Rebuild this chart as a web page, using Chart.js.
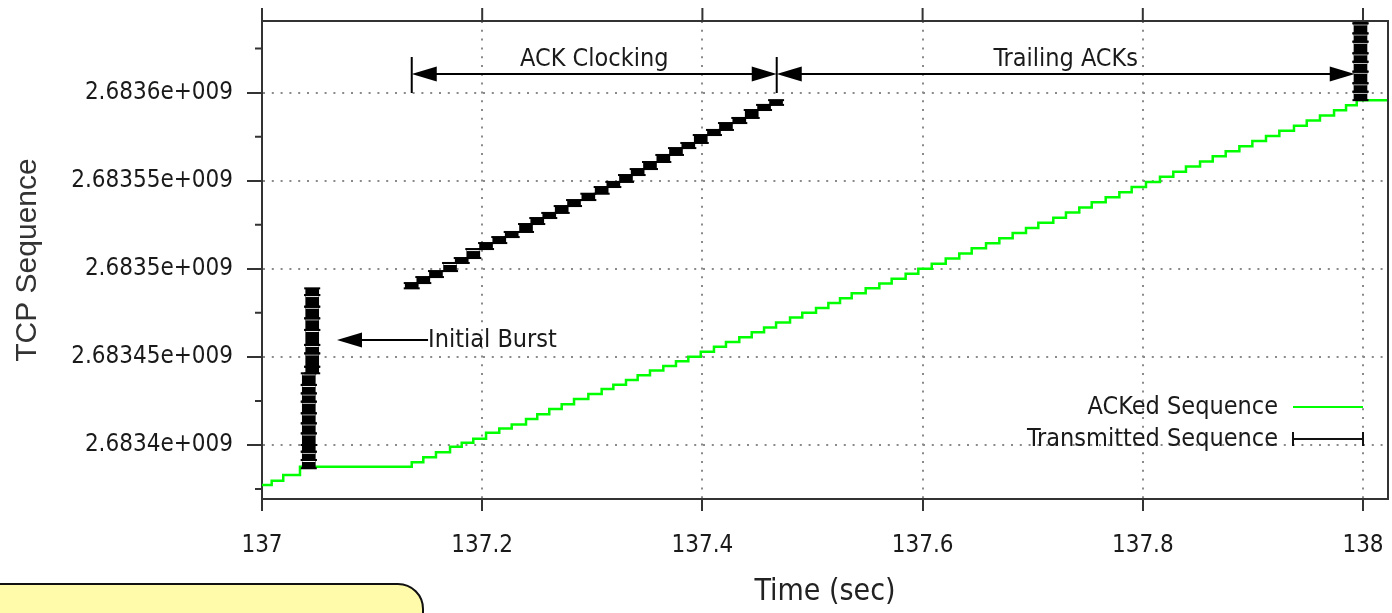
<!DOCTYPE html>
<html>
<head>
<meta charset="utf-8">
<title>TCP Sequence</title>
<script src="https://cdn.jsdelivr.net/npm/chart.js@4.4.1/dist/chart.umd.min.js"></script>
<style>
  body { margin: 0; background: #fff; }
  #wrap { position: relative; width: 1392px; height: 613px; overflow: hidden; background: #fff; }
  #note { position: absolute; left: -40px; top: 583px; width: 464px; height: 80px; box-sizing: border-box;
          background: #fffbaa; border: 2px solid #111; border-radius: 26px; }
</style>
</head>
<body>
<div id="wrap">
  <canvas id="chart_id" width="1392" height="613"></canvas>
  <div id="note"></div>
</div>
<script>
const font_family = "'DejaVu Sans Condensed', 'DejaVu Sans', sans-serif";

// axis ticks, '' = minor tick without label
const x_ticks = [137, 137.2, 137.4, 137.6, 137.8, 138];
const x_tick_labels = ['137', '137.2', '137.4', '137.6', '137.8', '138'];
const y_ticks = [2683375000, 2683400000, 2683425000, 2683450000, 2683475000, 2683500000,
                 2683525000, 2683550000, 2683575000, 2683600000, 2683625000];
const y_tick_labels = ['', '2.6834e+009', '', '2.68345e+009', '', '2.6835e+009',
                       '', '2.68355e+009', '', '2.6836e+009', ''];

// ACKed sequence : time of each ACK and the sequence it acknowledges
const ack_time = [137.0, 137.0088, 137.0193, 137.0345,
  137.1360, 137.1465, 137.1580, 137.1708, 137.1814, 137.1919, 137.2035, 137.2155, 137.2268, 137.2398,
  137.2500, 137.2609, 137.2722, 137.2834, 137.2964, 137.3085, 137.3191, 137.3306, 137.3412, 137.3524,
  137.3645, 137.3760, 137.3872, 137.3985, 137.4105, 137.4214, 137.4335, 137.4448, 137.4560, 137.4669,
  137.4796, 137.4907, 137.5032, 137.5144, 137.5250, 137.5356, 137.5483, 137.5607, 137.5719, 137.5846,
  137.5961, 137.6083, 137.6210, 137.6333, 137.6446, 137.6576, 137.6697, 137.6818, 137.6939, 137.7051,
  137.7187, 137.7302, 137.7423, 137.7536, 137.7663, 137.7787, 137.7899, 137.8029, 137.8156, 137.8277,
  137.8392, 137.8520, 137.8635, 137.8753, 137.8877, 137.8995, 137.9119, 137.9240, 137.9373, 137.9489,
  137.9609, 137.9737, 137.9846, 137.9943, 138.03];
const ack_seq = [2683377300, 2683379700, 2683383000, 2683387700,
  2683390200, 2683393000, 2683395900, 2683399000, 2683401300, 2683403600, 2683407000, 2683409300, 2683411700, 2683414800,
  2683417400, 2683420400, 2683423100, 2683426100, 2683428900, 2683431800, 2683434200, 2683436900, 2683439600, 2683442300,
  2683444900, 2683447500, 2683450100, 2683452900, 2683455700, 2683458400, 2683461200, 2683464000, 2683466700, 2683469500,
  2683472300, 2683475000, 2683477800, 2683480600, 2683483300, 2683486100, 2683488900, 2683491600, 2683494400, 2683497200,
  2683500000, 2683502900, 2683505800, 2683508700, 2683511600, 2683514500, 2683517400, 2683520300, 2683523200, 2683526100,
  2683529000, 2683531900, 2683534800, 2683537700, 2683540600, 2683543500, 2683546400, 2683549300, 2683552200, 2683555100,
  2683558000, 2683560900, 2683563800, 2683566700, 2683569600, 2683572500, 2683575400, 2683578300, 2683581200, 2683584100,
  2683587000, 2683589900, 2683592800, 2683595700, 2683595700];

// transmitted sequence : initial burst
const burst_time = [137.0425, 137.0425, 137.0425, 137.0425, 137.0425, 137.0425, 137.0425, 137.0425, 137.0425,
  137.0425, 137.0456, 137.0456, 137.0456, 137.0456, 137.0456, 137.0456, 137.0456, 137.0456];
const burst_from = [2683386800, 2683391500, 2683396200, 2683400000, 2683406600, 2683412300, 2683418000, 2683424600,
  2683429300, 2683434100, 2683440700, 2683444400, 2683452000, 2683456800, 2683465300, 2683471900, 2683478500, 2683485100];
const burst_to = [2683391500, 2683396200, 2683400000, 2683406600, 2683412300, 2683418000, 2683424600, 2683429300,
  2683434100, 2683440700, 2683444400, 2683452000, 2683456800, 2683465300, 2683471900, 2683478500, 2683485100, 2683488900];

// transmitted sequence : clocked by the returning ACKs
const clocked_time = [137.1360, 137.1465, 137.1580, 137.1708, 137.1814, 137.1919, 137.2035, 137.2155, 137.2268, 137.2398,
  137.2500, 137.2609, 137.2722, 137.2834, 137.2964, 137.3085, 137.3191, 137.3306, 137.3412, 137.3524,
  137.3645, 137.3760, 137.3872, 137.3985, 137.4105, 137.4214, 137.4335, 137.4448, 137.4560, 137.4669];
const clocked_from = [2683488900, 2683491900, 2683495300, 2683498700, 2683503300, 2683506100, 2683511200, 2683514600,
  2683518000, 2683520900, 2683525400, 2683528800, 2683531700, 2683535600, 2683539000, 2683542600, 2683546400,
  2683549300, 2683553200, 2683556600, 2683560600, 2683564600, 2683568500, 2683571400, 2683575900, 2683578800,
  2683582700, 2683585600, 2683590100, 2683593000];
const clocked_to = [2683491900, 2683495300, 2683498700, 2683503300, 2683506100, 2683511200, 2683514600, 2683518000,
  2683520900, 2683525400, 2683528800, 2683531700, 2683535600, 2683539000, 2683542600, 2683546400, 2683549300,
  2683553200, 2683556600, 2683560600, 2683564600, 2683568500, 2683571400, 2683575900, 2683578800, 2683582700,
  2683585600, 2683590100, 2683593000, 2683595700];

// transmitted sequence : next burst at the right edge
const tail_time = [137.9977, 137.9977, 137.9977, 137.9977, 137.9977, 137.9977, 137.9977, 137.9977, 137.9977];
const tail_from = [2683595700, 2683600500, 2683605300, 2683611900, 2683617500, 2683622300, 2683628900, 2683633600, 2683639300];
const tail_to = [2683600500, 2683605300, 2683611900, 2683617500, 2683622300, 2683628900, 2683633600, 2683639300, 2683645000];

// annotations (data coordinates)
const phase_labels = ['ACK Clocking', 'Trailing ACKs'];
const phase_start = [137.136, 137.4675];
const phase_end = [137.4675, 137.9925];
const phase_seq = 2683610500;
const phase_bar_low = 2683599800;
const phase_bar_high = 2683620200;
const burst_label = 'Initial Burst';
const burst_arrow_from = 137.1508;
const burst_arrow_to = 137.0681;
const burst_arrow_seq = 2683459600;

const sent_points = [];
burst_time.forEach((t, i) => sent_points.push({ x: t, y: [burst_from[i], burst_to[i]] }));
clocked_time.forEach((t, i) => sent_points.push({ x: t, y: [clocked_from[i], clocked_to[i]] }));
tail_time.forEach((t, i) => sent_points.push({ x: t, y: [tail_from[i], tail_to[i]] }));

const ack_points = ack_time.map((t, i) => ({ x: t, y: ack_seq[i] }));

function arrow_head(ctx, x, y, dir) {
  // tip at (x, y); dir -1 points left, 1 points right
  ctx.beginPath();
  ctx.moveTo(x, y);
  ctx.lineTo(x - dir * 25, y - 7.5);
  ctx.lineTo(x - dir * 25, y + 7.5);
  ctx.closePath();
  ctx.fill();
}

// gnuplot style error bar caps on each transmitted block
const errorbar_caps = {
  id: 'errorbar_caps',
  afterDatasetsDraw(chart) {
    const ctx = chart.ctx;
    const area = chart.chartArea;
    const meta = chart.getDatasetMeta(1);
    ctx.save();
    ctx.beginPath();
    ctx.rect(area.left, area.top, area.right - area.left, area.bottom - area.top);
    ctx.clip();
    meta.data.forEach(bar => {
      if (bar.base - bar.y > 8) {
        ctx.fillStyle = '#fff';
        ctx.fillRect(bar.x - 6.5, bar.y + 1, 13, 1);
      }
      ctx.fillStyle = '#000';
      ctx.fillRect(bar.x - 8, bar.y - 1, 16, 2);
      ctx.fillRect(bar.x - 8, bar.base - 1, 16, 2);
    });
    ctx.restore();
  }
};

// box border, mirrored x ticks, minor y ticks, labels and key
const frame = {
  id: 'frame',
  afterDraw(chart) {
    const ctx = chart.ctx;
    const area = chart.chartArea;
    const xs = chart.scales.x;
    const ys = chart.scales.y;
    ctx.save();
    ctx.strokeStyle = '#333';
    ctx.lineWidth = 2;
    ctx.beginPath();
    ctx.moveTo(area.left, area.top);
    ctx.lineTo(area.right, area.top);
    ctx.lineTo(area.right, area.bottom);
    ctx.stroke();

    ctx.beginPath();
    x_ticks.forEach(v => {
      const px = xs.getPixelForValue(v);
      ctx.moveTo(px, area.top);
      ctx.lineTo(px, area.top - 13);
    });
    y_ticks.forEach((v, i) => {
      if (y_tick_labels[i] !== '') return;
      const py = ys.getPixelForValue(v);
      ctx.moveTo(area.left, py);
      ctx.lineTo(area.left - 7, py);
    });
    ctx.stroke();

    // phase arrows
    ctx.strokeStyle = '#000';
    ctx.fillStyle = '#000';
    const ay = ys.getPixelForValue(phase_seq);
    ctx.beginPath();
    [phase_start[0], phase_end[0]].forEach(v => {
      const px = xs.getPixelForValue(v);
      ctx.moveTo(px, ys.getPixelForValue(phase_bar_high));
      ctx.lineTo(px, ys.getPixelForValue(phase_bar_low));
    });
    phase_labels.forEach((label, i) => {
      const x1 = xs.getPixelForValue(phase_start[i]);
      const x2 = xs.getPixelForValue(phase_end[i]);
      ctx.moveTo(x1 + 10, ay);
      ctx.lineTo(x2 - 10, ay);
    });
    ctx.stroke();
    ctx.font = '25px ' + font_family;
    ctx.textAlign = 'center';
    ctx.textBaseline = 'middle';
    phase_labels.forEach((label, i) => {
      const x1 = xs.getPixelForValue(phase_start[i]);
      const x2 = xs.getPixelForValue(phase_end[i]);
      arrow_head(ctx, x1, ay, -1);
      arrow_head(ctx, x2, ay, 1);
      ctx.fillStyle = '#1a1a1a';
      ctx.fillText(label, (x1 + x2) / 2, ay - 15);
      ctx.fillStyle = '#000';
    });

    // initial burst arrow
    const bx1 = xs.getPixelForValue(burst_arrow_from);
    const bx2 = xs.getPixelForValue(burst_arrow_to);
    const by = ys.getPixelForValue(burst_arrow_seq);
    ctx.beginPath();
    ctx.moveTo(bx1, by);
    ctx.lineTo(bx2 + 10, by);
    ctx.stroke();
    arrow_head(ctx, bx2, by, -1);
    ctx.fillStyle = '#1a1a1a';
    ctx.textAlign = 'left';
    ctx.fillText(burst_label, bx1, by + 1);

    // key
    const kx = area.right - 110;
    const k1 = area.bottom - 92;
    const k2 = area.bottom - 60;
    ctx.textAlign = 'right';
    ctx.fillText('ACKed Sequence', kx, k1);
    ctx.fillText('Transmitted Sequence', kx, k2);
    ctx.strokeStyle = '#00ff00';
    ctx.beginPath();
    ctx.moveTo(area.right - 95, k1);
    ctx.lineTo(area.right - 25, k1);
    ctx.stroke();
    ctx.strokeStyle = '#111';
    ctx.beginPath();
    ctx.moveTo(area.right - 95, k2);
    ctx.lineTo(area.right - 25, k2);
    ctx.moveTo(area.right - 95, k2 - 7);
    ctx.lineTo(area.right - 95, k2 + 7);
    ctx.moveTo(area.right - 25, k2 - 7);
    ctx.lineTo(area.right - 25, k2 + 7);
    ctx.stroke();
    ctx.restore();
  }
};

const is_major_y = (c) => y_tick_labels[c.index] !== '';

const chart_ref = new Chart(document.getElementById('chart_id'), {
  type: 'line',
  data: {
    datasets: [{
      label: 'ACKed Sequence',
      data: ack_points,
      borderColor: '#00ff00',
      borderWidth: 2.5,
      pointRadius: 0,
      stepped: 'before',
      order: 2
    }, {
      type: 'bar',
      label: 'Transmitted Sequence',
      data: sent_points,
      backgroundColor: '#000',
      borderWidth: 0,
      barThickness: 13,
      grouped: false,
      clip: 0,
      order: 1
    }]
  },
  options: {
    responsive: false,
    animation: false,
    events: [],
    layout: { padding: { left: 0, right: 4, top: 21, bottom: 0 } },
    plugins: { legend: { display: false }, tooltip: { enabled: false } },
    scales: {
      x: {
        type: 'linear',
        min: 137,
        max: 138.0227,
        offset: false,
        afterFit: (s) => { s.height = 114; s.paddingLeft = 0; s.paddingRight = 0; },
        afterBuildTicks: (s) => { s.ticks = x_ticks.map(v => ({ value: v })); },
        grid: { offset: false, color: '#8a8a8a', lineWidth: 2, tickColor: '#333', tickWidth: 2, tickLength: 12 },
        border: { color: '#333', width: 2, dash: [2, 6.8] },
        ticks: {
          autoSkip: false, maxRotation: 0, padding: 20, color: '#1a1a1a',
          font: { family: font_family, size: 24 },
          callback: (v, i) => x_tick_labels[i]
        },
        title: {
          display: true, text: 'Time (sec)', color: '#222',
          font: { family: font_family, size: 30 },
          padding: { top: 0, bottom: 3 }
        }
      },
      y: {
        type: 'linear',
        min: 2683369355,
        max: 2683640620,
        beginAtZero: false,
        afterFit: (s) => { s.width = 262; s.paddingTop = 0; s.paddingBottom = 0; },
        afterBuildTicks: (s) => { s.ticks = y_ticks.map(v => ({ value: v })); },
        grid: {
          color: '#8a8a8a',
          lineWidth: (c) => is_major_y(c) ? 2 : 0,
          tickColor: '#333',
          tickWidth: (c) => is_major_y(c) ? 2 : 0,
          tickLength: 15
        },
        border: { color: '#333', width: 2, dash: [2, 6.8] },
        ticks: {
          autoSkip: false, padding: 14, color: '#1a1a1a',
          font: { family: font_family, size: 24 },
          callback: (v, i) => y_tick_labels[i]
        },
        title: {
          display: true, text: 'TCP Sequence', color: '#333',
          font: { family: "'Liberation Sans', Arial, sans-serif", size: 30 },
          padding: { top: 10, bottom: 0 }
        }
      }
    }
  },
  plugins: [errorbar_caps, frame]
});
</script>
</body>
</html>
